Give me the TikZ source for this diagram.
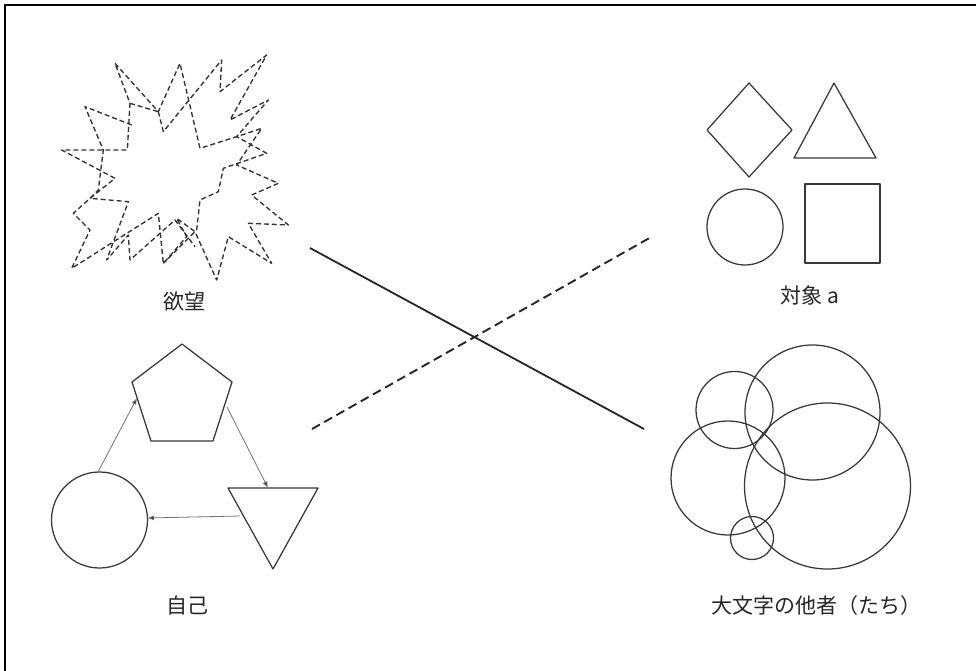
\documentclass[tikz,border=0pt]{standalone}
\usepackage{fontspec}
\newfontfamily\jp{Noto Sans CJK JP}
\usetikzlibrary{arrows.meta}
\begin{document}
\begin{tikzpicture}[x=1pt,y=-1pt,
  shp/.style={draw=black!78, line width=1.25pt, line join=round},
  burst/.style={draw=black!80, line width=1.35pt, dash pattern=on 5pt off 3pt, line join=round},
  flow/.style={draw=black!55, line width=0.8pt, -{Latex[length=6.5pt,width=5pt,fill=black!85]}},
  lbl/.style={font=\jp\fontsize{21}{25}\selectfont, text=black!85, inner sep=0pt, anchor=center},
  ]
\useasboundingbox (0,0) rectangle (976,671);
\fill[white] (0,0) rectangle (976,671);
\draw[line width=2pt] (5,671) -- (5,5) -- (976,5);

% ---- desire (burst) ----
\begin{scope}[shift={(40,50)}, x=0.33333pt, y=-0.33333pt]
\draw[burst] (225,40) -- (355,185) -- (420,40) -- (480,295) -- (590,260) -- (665,235)
  -- (590,345) -- (715,400) -- (635,435) -- (745,525) -- (625,520) -- (695,640)
  -- (565,560) -- (530,690) -- (465,545) -- (410,505) -- (440,560) -- (370,640)
  -- (355,490) -- (95,655) -- (150,540) -- (100,490) -- (150,445) -- (225,385)
  -- (65,300) -- (262,300) -- (270,160) -- cycle;
\draw[burst] (355,185) -- (370,245) -- (545,30) -- (540,125) -- (680,15) -- (570,210)
  -- (685,150) -- (590,260) -- (680,310) -- (550,355) -- (535,425) -- (480,450)
  -- (470,540) -- (370,640);
\draw[burst] (270,160) -- (355,185);
\draw[burst] (275,225) -- (135,170) -- (190,300) -- (175,420) -- (150,445) -- (265,455)
  -- (200,630) -- (265,555) -- (270,630) -- (405,510) -- (465,590);
\end{scope}
\node[lbl] (desire) at (184,302) {欲望};

% ---- objet a ----
\draw[shp] (749,83) -- (792,130) -- (749,177) -- (707,130) -- cycle;
\draw[shp] (834,83) -- (876,158) -- (794,158) -- cycle;
\draw[shp] (745,227) circle[radius=38];
\draw[shp] (805,184) rectangle (880,263);
\node[lbl] (objeta) at (810,296) {対象 a};

% ---- self ----
\draw[shp] (182,344) -- (232,382) -- (213,441) -- (151,441) -- (132,382) -- cycle;
\draw[shp] (228,488) -- (318,488) -- (273,569) -- cycle;
\draw[shp] (99.5,520) circle[radius=48];
\coordinate (cTop) at (98,472);
\coordinate (pL) at (137,398);
\coordinate (pR) at (227,407);
\coordinate (tTop) at (268,488);
\coordinate (tL) at (240,516);
\coordinate (cR) at (147.5,518);
\draw[flow] (cTop) -- (pL);
\draw[flow] (pR) -- (tTop);
\draw[flow] (tL) -- (cR);
\node[lbl] (self) at (187,606) {自己};

% ---- Other(s) ----
\draw[shp] (734.5,410) circle[radius=38.5];
\draw[shp] (812.5,412.5) circle[radius=67.5];
\draw[shp] (728,478) circle[radius=57];
\draw[shp] (827.5,486) circle[radius=83];
\draw[shp] (752,538) circle[radius=21.5];
\node[lbl] (other) at (816,606) {大文字の他者（たち）};

% ---- crossing lines ----
\coordinate (sA) at (310,248);
\coordinate (sB) at (644,429);
\coordinate (dA) at (312,429);
\coordinate (dB) at (653,236);
\draw[draw=black!85, line width=1.8pt] (sA) -- (sB);
\draw[draw=black!85, line width=1.9pt, dash pattern=on 9pt off 5pt] (dA) -- (dB);
\end{tikzpicture}
\end{document}
